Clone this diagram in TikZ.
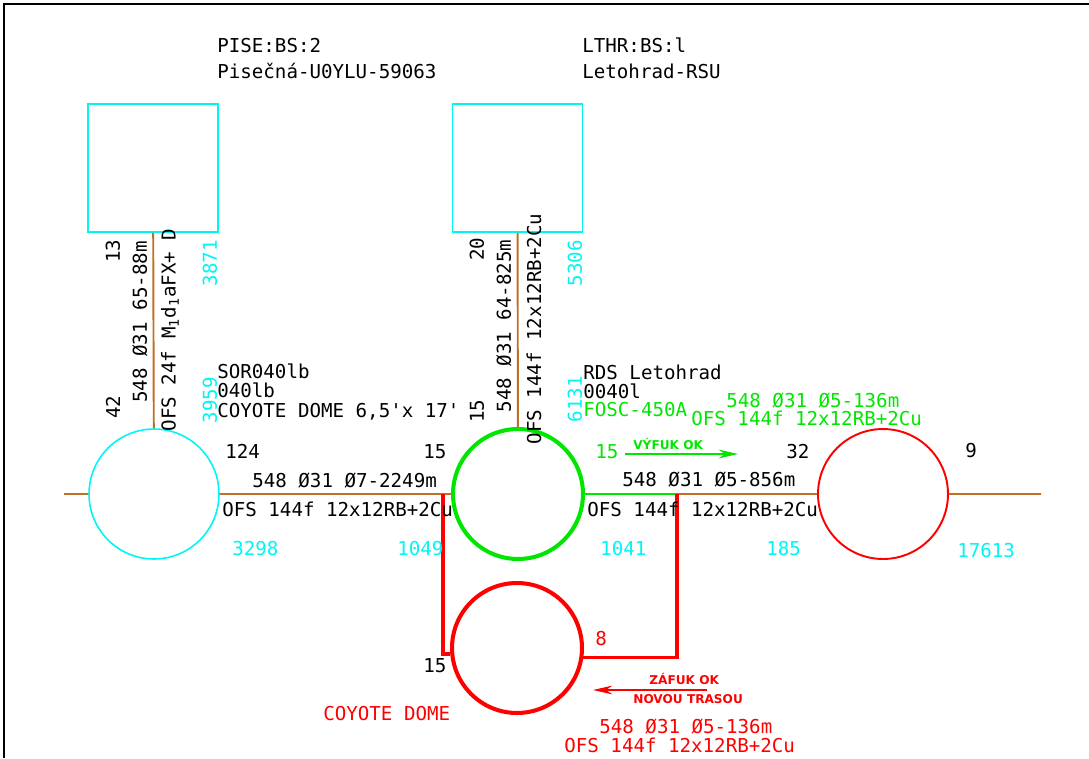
\documentclass[tikz,border=0pt]{standalone}
\usepackage{fontspec}
\setmonofont{DejaVu Sans Mono}
\setsansfont{DejaVu Sans}
\usetikzlibrary{arrows.meta}
\definecolor{cab}{RGB}{190,112,36}
\definecolor{grn}{RGB}{0,230,0}
\definecolor{cya}{RGB}{0,245,245}

\begin{document}
\begin{tikzpicture}[x=0.02cm,y=-0.02cm,
  box node/.style={draw=cya,line width=1.1pt,minimum width=2.6cm,minimum height=2.56cm,inner sep=0pt},
  dome node/.style={circle,minimum size=2.6cm,inner sep=0pt},
  lbl/.style={font=\ttfamily\fontsize{10.9}{12}\selectfont,inner sep=0pt,anchor=base west},
  vlbl/.style={font=\ttfamily\fontsize{10.9}{12}\selectfont,inner sep=0pt,rotate=90},
  small/.style={font=\sffamily\bfseries\fontsize{6.9}{7}\selectfont,inner sep=0pt,anchor=base west},
  cable/.style={draw=cab,line width=1.1pt}]
  \useasboundingbox (0,0) rectangle (1089,758);
  \draw[line width=1.7pt] (1089,4) -- (4,4) -- (4,758);

  % boxes and domes
  \node[box node] (pise) at (153,168) {};
  \node[box node] (lthr) at (517.5,168) {};
  \node[dome node,draw=cya,line width=0.9pt] (sor) at (154,494) {};
  \node[dome node,draw=grn,line width=2.3pt] (rds) at (518,494) {};
  \node[dome node,draw=red,line width=1.1pt] (east) at (883,494) {};
  \node[dome node,draw=red,line width=2.3pt] (coyote) at (517,648) {};

  \coordinate (stubW) at (64,494);
  \coordinate (stubE) at (1041,494);
  \coordinate (tapL) at (443,494);
  \coordinate (tapR) at (677,494);

  % cables
  \path[cable]
    (pise) -- (sor)
    (lthr) -- (rds)
    (stubW) -- (sor)
    (sor) -- (rds)
    (tapR) -- (east)
    (east) -- (stubE);
  \draw[grn,line width=1.1pt] (rds) -- (tapR);
  \draw[red,line width=2pt] (tapL) |- (coyote.185);
  \draw[red,line width=2pt] (tapR) |- (coyote.-8);

  % headers
  \node[lbl] (h1) at (217,52) {PISE:BS:2};
  \node[lbl] (h2) at (217,78) {Pisečná-U0YLU-59063};
  \node[lbl] (h3) at (582,52) {LTHR:BS:l};
  \node[lbl] (h4) at (582,78) {Letohrad-RSU};

  % vertical cable labels
  \node[vlbl] (v1) at (113,251) {13};
  \node[vlbl] (v2) at (140,322) {548 Ø31 65-88m};
  \node[vlbl] (v3) at (170,330) {OFS 24f M\textsubscript{1}d\textsubscript{1}aFX+ D};
  \node[vlbl,cya] (v4) at (210,263) {3871};
  \node[vlbl] (v5) at (113,407) {42};
  \node[vlbl,cya] (v6) at (210,400) {3959};
  \node[vlbl] (v7) at (477,249) {20};
  \node[vlbl] (v8) at (504,326) {548 Ø31 64-825m};
  \node[vlbl] (v9) at (534,329) {OFS 144f 12x12RB+2Cu};
  \node[vlbl,cya] (v10) at (575,263) {5306};
  \node[vlbl] (v11) at (477,411) {15};
  \node[vlbl,cya] (v12) at (575,399) {6131};

  % dome texts
  \node[lbl] (s1) at (217,378) {SOR040lb};
  \node[lbl] (s2) at (217,397) {040lb};
  \node[lbl] (s3) at (217,417) {COYOTE DOME 6,5'x 17'};
  \node[lbl] (r1) at (583,379) {RDS Letohrad};
  \node[lbl] (r2) at (583,398) {0040l};
  \node[lbl,grn] (r3) at (583,416) {FOSC-450A};
  \node[lbl,grn] (g1) at (726,407) {548 Ø31 Ø5-136m};
  \node[lbl,grn] (g2) at (691,425) {OFS 144f 12x12RB+2Cu};

  % horizontal cable labels
  \node[lbl] (a1) at (225,458) {124};
  \node[lbl] (a2) at (423,458) {15};
  \node[lbl] (a3) at (252,487) {548 Ø31 Ø7-2249m};
  \node[lbl] (a4) at (222,516) {OFS 144f 12x12RB+2Cu};
  \node[lbl,cya] (a5) at (232,555) {3298};
  \node[lbl,cya] (a6) at (397,555) {1049};
  \node[lbl,grn] (b1) at (595,458) {15};
  \node[lbl] (b2) at (786,458) {32};
  \node[lbl] (b3) at (622,486) {548 Ø31 Ø5-856m};
  \node[lbl] (b4) at (587,516) {OFS 144f 12x12RB+2Cu};
  \node[lbl,cya] (b5) at (600,555) {1041};
  \node[lbl,cya] (b6) at (766,555) {185};
  \node[lbl] (c1) at (965,457) {9};
  \node[lbl,cya] (c2) at (957,557) {17613};

  % blowing notes
  \coordinate (vy1) at (625,454);
  \coordinate (vy2) at (738,454);
  \draw[grn,line width=0.9pt,-{Stealth[length=11pt,width=5pt]}] (vy1) -- (vy2);
  \node[small,grn] (n1) at (633,449) {VÝFUK OK};
  \coordinate (za1) at (707,690);
  \coordinate (za2) at (593,690);
  \draw[red,line width=0.9pt,-{Stealth[length=11pt,width=5pt]}] (za1) -- (za2);
  \node[small,red] (n2) at (649,684) {ZÁFUK OK};
  \node[small,red] (n3) at (633,703) {NOVOU TRASOU};

  % new dome
  \node[lbl] (d1) at (423,672) {15};
  \node[lbl,red] (d2) at (595,645) {8};
  \node[lbl,red] (d3) at (323,720) {COYOTE DOME};
  \node[lbl,red] (d4) at (599,733) {548 Ø31 Ø5-136m};
  \node[lbl,red] (d5) at (564,752) {OFS 144f 12x12RB+2Cu};
\end{tikzpicture}
\end{document}
